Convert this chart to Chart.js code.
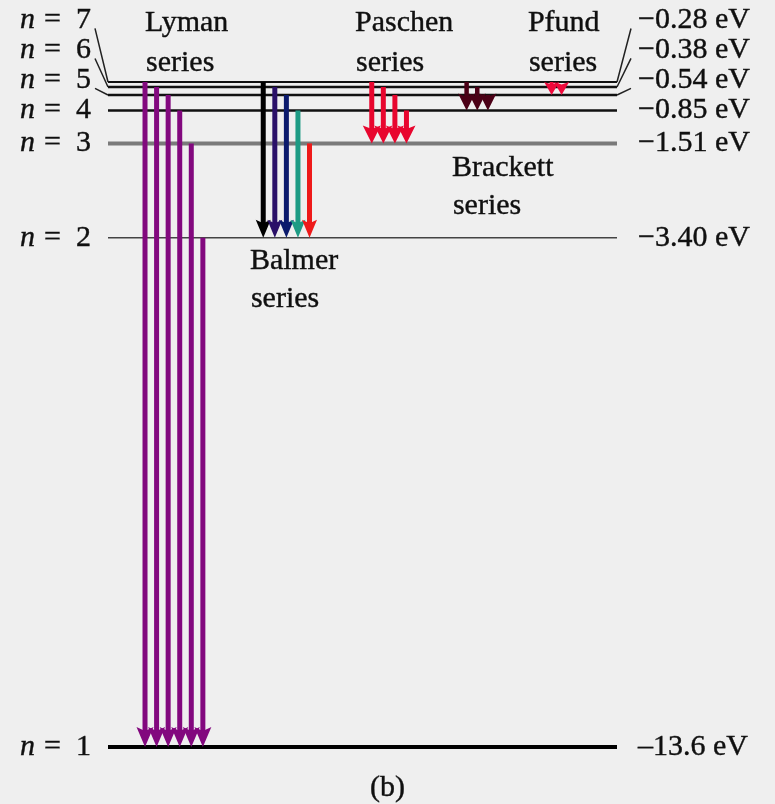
<!DOCTYPE html>
<html>
<head>
<meta charset="utf-8">
<script src="https://cdn.jsdelivr.net/npm/chart.js@4.4.1/dist/chart.umd.min.js"></script>
<style>
  html, body { margin: 0; padding: 0; background: #efefef; }
  #wrap { width: 775px; height: 804px; position: relative; }
  .warm { position: absolute; left: -9999px; top: 0; font: 30px "Liberation Serif"; }
  .warm i { font-style: italic; }
</style>
</head>
<body>
<div id="wrap"><canvas id="c" width="775" height="804"></canvas></div>
<div class="warm" aria-hidden="true">Lyman <i>n</i> −0.28 eV</div>
<script>
// Hydrogen energy levels (eV)
const levelN = [1, 2, 3, 4, 5, 6, 7];
const levelEnergy = [-13.6, -3.40, -1.51, -0.85, -0.54, -0.38, -0.28];
const energyLabels = ['–13.6 eV', '−3.40 eV', '−1.51 eV', '−0.85 eV', '−0.54 eV', '−0.38 eV', '−0.28 eV'];

// Emission series: lower level and the upper levels each series falls from
const seriesNames = ['Lyman', 'Balmer', 'Paschen', 'Brackett', 'Pfund'];
const seriesLower = [1, 2, 3, 4, 5];
const seriesUpper = [[7, 6, 5, 4, 3, 2], [7, 6, 5, 4, 3], [7, 6, 5, 4], [7, 6, 5], [7, 6]];

// ---- layout & styling ----
const X_MAX = 44;
const FONT = '"Liberation Serif", "Times New Roman", serif';
const TEXT = '#101010';

const levelStyle = {
  1: { color: '#000000', width: 4 },
  2: { color: '#444444', width: 1.6 },
  3: { color: '#7a7a7a', width: 4 },
  4: { color: '#111111', width: 2.5 },
  5: { color: '#111111', width: 2.5 },
  6: { color: '#111111', width: 2.5 },
  7: { color: '#111111', width: 2 }
};

// x0/step in x-axis units; head = [width, length] px; label anchors
const seriesStyle = {
  Lyman:    { x0: 3.2,   step: 1.0,  colors: ['#82087e'], head: [17, 20], shaft: 5,
              label: { x: 3.2,   ref: 7, dy: [-59, -19] } },
  Balmer:   { x0: 13.42, step: 1.0,  colors: ['#000000', '#2a1068', '#0b1a6c', '#1d9b84', '#ee1a1a'], head: [15, 18], shaft: 5,
              label: { x: 12.27, ref: 2, dy: [23, 61] } },
  Paschen:  { x0: 22.8,  step: 1.0,  colors: ['#e8062e'], head: [18, 18], shaft: 5,
              label: { x: 21.35, ref: 7, dy: [-59, -19] } },
  Brackett: { x0: 31.0,  step: 0.92, colors: ['#4b0016'], head: [17, 17], shaft: 4.5,
              label: { x: 29.73, ref: 3, dy: [25, 63] } },
  Pfund:    { x0: 38.35, step: 0.86, colors: ['#ef0a3c'], head: [15, 13], shaft: 4,
              label: { x: 36.3,  ref: 7, dy: [-59, -19] } }
};

const energyOf = n => levelEnergy[levelN.indexOf(n)];

// ---- datasets: level lines (drawn by the line controller) and transition arrows ----
const datasets = [];
levelN.forEach((n, i) => {
  const st = levelStyle[n];
  datasets.push({
    kind: 'level', n,
    data: [{ x: 0, y: levelEnergy[i] }, { x: X_MAX, y: levelEnergy[i] }],
    showLine: true, borderColor: st.color, borderWidth: st.width,
    pointRadius: 0, borderCapStyle: 'butt', clip: false
  });
});
seriesNames.forEach((name, s) => {
  const st = seriesStyle[name];
  seriesUpper[s].forEach((u, k) => {
    const x = st.x0 + k * st.step;
    datasets.push({
      kind: 'arrow', series: name, k,
      color: st.colors[Math.min(k, st.colors.length - 1)],
      data: [{ x, y: energyOf(u) }, { x, y: energyOf(seriesLower[s]) }],
      showLine: false, pointRadius: 0, clip: false
    });
  });
});

// arrows: shaft + barbed head, end points taken from the parsed point elements
const arrowPlugin = {
  id: 'arrows',
  afterDatasetsDraw(chart) {
    const ctx = chart.ctx;
    chart.data.datasets.forEach((ds, i) => {
      if (ds.kind !== 'arrow') return;
      const meta = chart.getDatasetMeta(i);
      const a = meta.data[0], b = meta.data[1];
      const st = seriesStyle[ds.series];
      const [hw, hl] = st.head;
      const x = a.x, y0 = a.y, y1 = b.y;
      const notch = y1 - hl * 0.8;
      ctx.save();
      ctx.strokeStyle = ds.color;
      ctx.fillStyle = ds.color;
      ctx.lineWidth = st.shaft;
      ctx.lineCap = 'butt';
      if (notch > y0) {
        ctx.beginPath();
        ctx.moveTo(x, y0);
        ctx.lineTo(x, notch + 1);
        ctx.stroke();
      }
      ctx.beginPath();
      ctx.moveTo(x, y1);
      ctx.lineTo(x - hw / 2, y1 - hl);
      ctx.lineTo(x, notch);
      ctx.lineTo(x + hw / 2, y1 - hl);
      ctx.closePath();
      ctx.fill();
      ctx.restore();
    });
  }
};

// draws a text with a faint outline so the serif strokes read heavier
function heavyText(ctx, s, x, y) {
  ctx.fillText(s, x, y);
  ctx.strokeText(s, x, y);
}

// text: level names, energies, connector leaders, series names, caption
const labelPlugin = {
  id: 'labels',
  afterDraw(chart) {
    const ctx = chart.ctx;
    const ca = chart.chartArea;
    const ys = chart.scales.y, xs = chart.scales.x;
    const lvY = n => ys.getPixelForValue(energyOf(n));

    // label rows: n <= 4 sit on their line, higher ones stack upward
    const labelY = {};
    levelN.forEach(n => {
      labelY[n] = n <= 4 ? lvY(n) : lvY(4) - 30 * (n - 4);
    });

    ctx.save();
    ctx.textBaseline = 'middle';

    const xr = ca.left - 17;
    const xl = ca.right + 21;
    levelN.forEach((n, i) => {
      const y = labelY[n];
      if (n >= 5) {
        ctx.strokeStyle = '#222';
        ctx.lineWidth = 1.5;
        ctx.beginPath();
        ctx.moveTo(ca.left, lvY(n));
        ctx.lineTo(ca.left - 13, y + 8);
        ctx.moveTo(ca.right, lvY(n));
        ctx.lineTo(ca.right + 14, y + 8);
        ctx.stroke();
      }
      ctx.fillStyle = TEXT;
      ctx.strokeStyle = TEXT;
      ctx.lineWidth = 0.4;
      ctx.textAlign = 'left';
      ctx.font = 'italic 30px ' + FONT;
      heavyText(ctx, 'n', xr - 71, y);
      ctx.font = '30px ' + FONT;
      heavyText(ctx, '=', xr - 47, y);
      ctx.textAlign = 'right';
      heavyText(ctx, String(n), xr, y);
      ctx.textAlign = 'left';
      heavyText(ctx, energyLabels[i], xl, y);
    });

    ctx.font = '30px ' + FONT;
    ctx.textAlign = 'left';
    seriesNames.forEach(name => {
      const lb = seriesStyle[name].label;
      const x = xs.getPixelForValue(lb.x);
      const base = lvY(lb.ref);
      heavyText(ctx, name, x, base + lb.dy[0]);
      heavyText(ctx, 'series', x + 1, base + lb.dy[1]);
    });

    ctx.textAlign = 'center';
    heavyText(ctx, '(b)', chart.width / 2, lvY(1) + 41);
    ctx.restore();
  }
};

const bgPlugin = {
  id: 'bg',
  beforeDraw(chart) {
    const ctx = chart.ctx;
    ctx.save();
    ctx.fillStyle = '#efefef';
    ctx.fillRect(0, 0, chart.width, chart.height);
    ctx.restore();
  }
};

function build() {
  new Chart(document.getElementById('c'), {
    type: 'scatter',
    data: { datasets },
    options: {
      responsive: false,
      devicePixelRatio: 1,
      animation: false,
      events: [],
      layout: { padding: { left: 108, right: 158, top: 68, bottom: 12 } },
      plugins: { legend: { display: false }, tooltip: { enabled: false } },
      scales: {
        x: { type: 'linear', min: 0, max: X_MAX, display: false },
        y: { type: 'linear', min: -14.5, max: 0, display: false }
      }
    },
    plugins: [bgPlugin, arrowPlugin, labelPlugin]
  });
}

// make sure the serif face is ready before the canvas text is drawn
if (document.fonts && document.fonts.load) {
  Promise.all([
    document.fonts.load('30px "Liberation Serif"'),
    document.fonts.load('italic 30px "Liberation Serif"')
  ]).then(build, build);
} else {
  build();
}
</script>
</body>
</html>
